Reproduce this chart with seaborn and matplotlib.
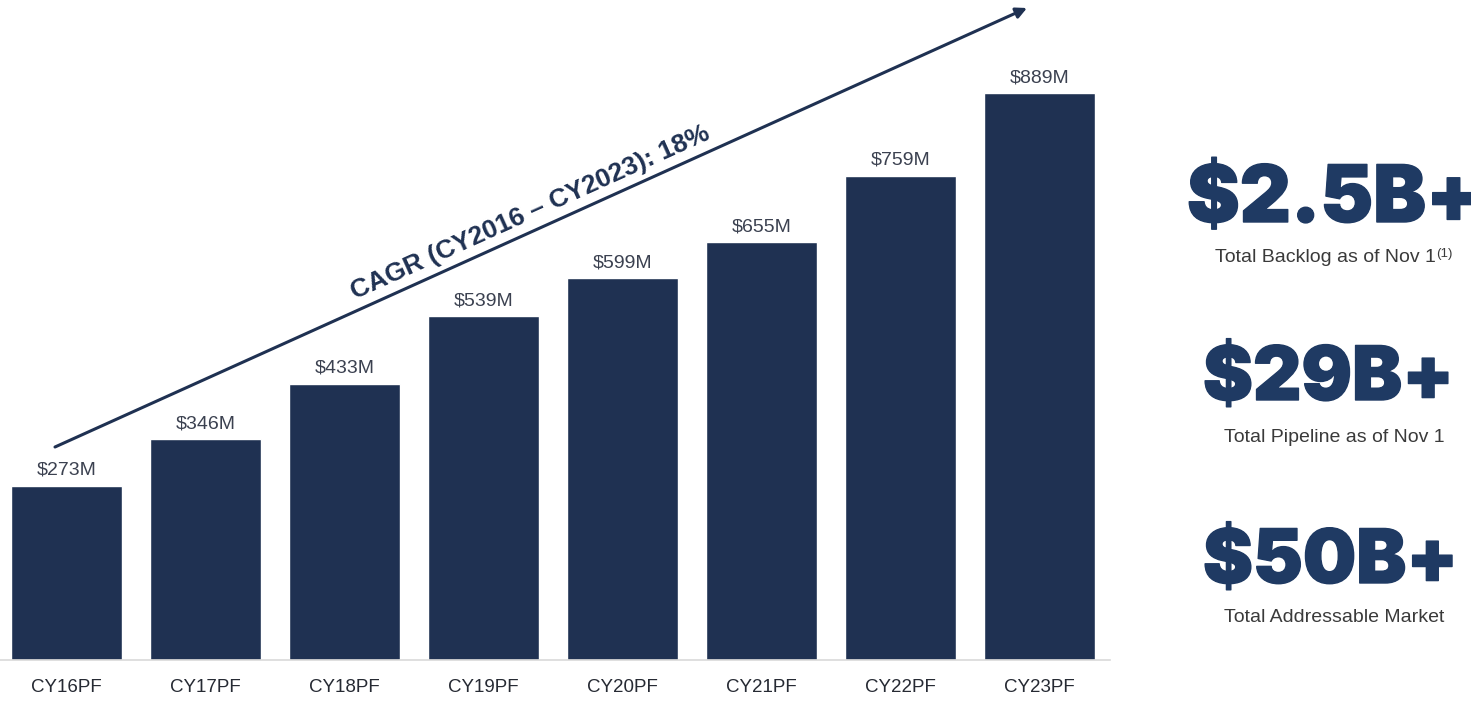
import matplotlib
matplotlib.use("Agg")
import matplotlib.pyplot as plt
import matplotlib.patheffects as pe
import seaborn as sns
import pandas as pd

categories = ["CY16PF", "CY17PF", "CY18PF", "CY19PF", "CY20PF", "CY21PF", "CY22PF", "CY23PF"]
revenue_m = [273, 346, 433, 539, 599, 655, 759, 889]
value_labels = ["$273M", "$346M", "$433M", "$539M", "$599M", "$655M", "$759M", "$889M"]
cagr_text = "CAGR (CY2016 – CY2023): 18%"
kpi_values = ["$2.5B+", "$29B+", "$50B+"]
kpi_captions = ["Total Backlog as of Nov 1", "Total Pipeline as of Nov 1", "Total Addressable Market"]
footnote_mark = "(1)"

sns.set_theme(style="white")
plt.rcParams["font.family"] = ["Liberation Sans", "DejaVu Sans"]

W, H = 1471, 707
fig = plt.figure(figsize=(W / 100, H / 100), dpi=100)
fig.patch.set_facecolor("white")

# axes: left 0px, width 1110px, bottom 47px, height 660px
ax = fig.add_axes([0 / W, 47 / H, 1110 / W, 660 / H])
df = pd.DataFrame({"cat": categories, "val": revenue_m})
bar_color = "#1f3152"
sns.barplot(data=df, x="cat", y="val", color=bar_color, saturation=1, width=0.8, ax=ax)

ax.set_xlim(-66.5 / 139, (1110 - 66.5) / 139)
ax.set_ylim(0, 660 / 0.6378)
for s in ["top", "right", "left"]:
    ax.spines[s].set_visible(False)
ax.spines["bottom"].set_color("#d9d9d9")
ax.spines["bottom"].set_linewidth(1.2)
ax.set_yticks([])
ax.set_xlabel("")
ax.set_ylabel("")
ax.tick_params(axis="x", length=0, pad=14, labelsize=13.5, labelcolor="#262a33")

for i, (v, lab) in enumerate(zip(revenue_m, value_labels)):
    ax.annotate(lab, (i, v), xytext=(0, 5), textcoords="offset points",
                ha="center", va="bottom", fontsize=14, color="#3b4150")

# CAGR arrow and text (figure pixel coordinates, origin bottom-left)
ax.annotate("", xy=(1027, H - 8), xytext=(55, H - 447),
            xycoords="figure pixels", textcoords="figure pixels",
            arrowprops=dict(arrowstyle="-|>", color="#1f3152", lw=2.2,
                            mutation_scale=16, shrinkA=0, shrinkB=0))
fig.text(530 / W, (H - 213) / H, cagr_text, rotation=24.3, rotation_mode="anchor",
         ha="center", va="center", fontsize=19, fontweight="bold", color="#1f3152")

# KPI block on the right
kpi_color = "#1f3a63"
kpi_x = [1187, 1203, 1203]
kpi_base = [222, 400, 583]
kpi_size = [57, 54, 54]
cap_center = [1325, 1334, 1334]
cap_y = [257, 437, 618]
caption_texts = []
for xv, yb, fs, kv, cx, cy, cap in zip(kpi_x, kpi_base, kpi_size, kpi_values, cap_center, cap_y, kpi_captions):
    fig.text(xv / W, (H - yb) / H, kv, ha="left", va="baseline", fontsize=fs,
             family=["Inter", "Liberation Sans"], fontweight="black", color=kpi_color,
             path_effects=[pe.withStroke(linewidth=1.0, foreground=kpi_color)])
    caption_texts.append(fig.text(cx / W, (H - cy) / H, cap, ha="center", va="center",
                                  fontsize=14, color="#3a3a3a"))

fig.canvas.draw()
bb = caption_texts[0].get_window_extent()
fig.text((bb.x1 + 1) / W, (bb.y1 + 1) / H, footnote_mark, ha="left", va="top",
         fontsize=9.5, color="#3a3a3a")

fig.savefig("out.png", dpi=100, facecolor="white")
